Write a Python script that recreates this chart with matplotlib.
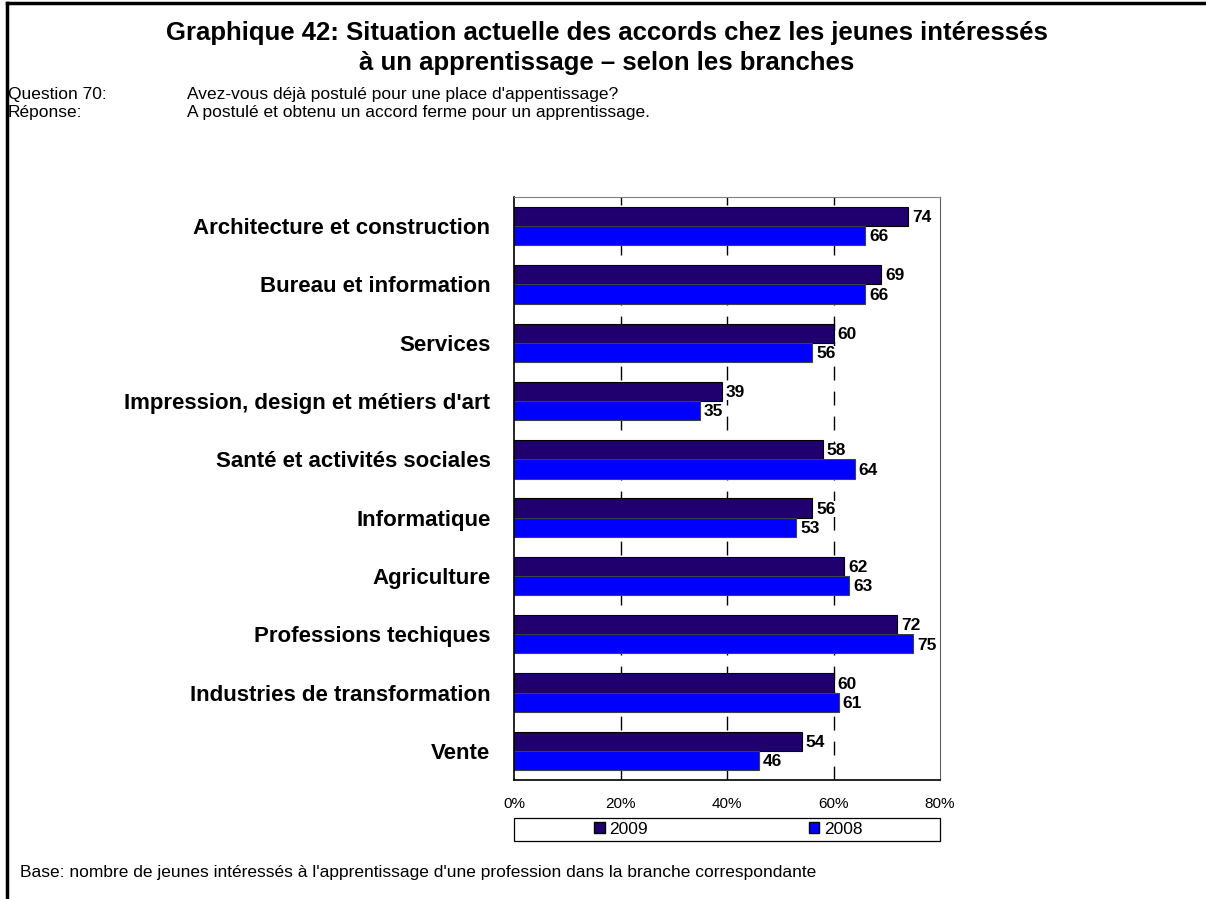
import numpy as np
import matplotlib
matplotlib.use("Agg")
import matplotlib.pyplot as plt
from matplotlib.patches import Patch, Rectangle

plt.rcParams['font.family'] = ['Liberation Sans', 'DejaVu Sans']

categories = ["Architecture et construction", "Bureau et information", "Services",
              "Impression, design et métiers d'art", "Santé et activités sociales",
              "Informatique", "Agriculture", "Professions techiques",
              "Industries de transformation", "Vente"]
v2009 = [74, 69, 60, 39, 58, 56, 62, 72, 60, 54]
v2008 = [66, 66, 56, 35, 64, 53, 63, 75, 61, 46]
xticks = [0, 20, 40, 60, 80]

c2009 = "#1F006E"
c2008 = "#0000FF"

fig = plt.figure(figsize=(12.06, 8.99), dpi=100)
ax = fig.add_axes([514/1206, 1-780/899, 426/1206, 583/899])

y = np.arange(len(categories))
h = 0.33
b1 = ax.barh(y - h/2, v2009, height=h, color=c2009, edgecolor="black", linewidth=0.8, label="2009", zorder=2)
b2 = ax.barh(y + h/2, v2008, height=h, color=c2008, edgecolor="#404040", linewidth=0.8, label="2008", zorder=2)
for bars in (b1, b2):
    for r in bars:
        ax.text(r.get_width() + 0.7, r.get_y() + r.get_height()/2 + 0.02, f"{int(r.get_width())}",
                va="center", ha="left", fontsize=12.5, fontweight="bold", zorder=3,
                bbox=dict(facecolor="white", edgecolor="none", pad=0.3))

ax.set_xlim(0, 80)
ax.set_ylim(len(categories) - 0.5, -0.5)
ax.set_yticks(y)
ax.set_yticklabels(categories, fontsize=16, fontweight="bold")
ax.set_xticks(xticks)
ax.set_xticklabels([f"{t}%" for t in xticks], fontsize=11)
ax.tick_params(axis="y", length=0, pad=17)
ax.tick_params(axis="x", length=0, pad=12)
for t in xticks[1:-1]:
    ax.axvline(t, color="black", linestyle=(0, (10, 8)), linewidth=1, zorder=0)
ax.spines["left"].set_linewidth(1.2)
ax.spines["bottom"].set_linewidth(1.2)
ax.spines["top"].set_color("#808080")
ax.spines["right"].set_color("#606060")

# legend box below the axis
ax.add_patch(Rectangle((0, -0.104), 1, 0.038, transform=ax.transAxes, fill=False,
                       edgecolor="black", linewidth=0.9, clip_on=False))
handles = [Patch(facecolor=c2009, edgecolor="black"), Patch(facecolor=c2008, edgecolor="black")]
leg = ax.legend(handles, ["2009", "2008"], loc="center", bbox_to_anchor=(0.503, -0.085),
                ncol=2, frameon=False, fontsize=12.5,
                handlelength=0.6, handleheight=0.6, handletextpad=0.25, borderaxespad=0,
                borderpad=0, columnspacing=9.3)

fig.text(607/1206, 1-48/899, "Graphique 42: Situation actuelle des accords chez les jeunes intéressés\nà un apprentissage – selon les branches",
         ha="center", va="center", fontsize=18.5, fontweight="bold", linespacing=1.3)
fig.text(8/1206, 1-95/899, "Question 70:", fontsize=12.5, va="center")
fig.text(8/1206, 1-112/899, "Réponse:", fontsize=12.5, va="center")
fig.text(187/1206, 1-95/899, "Avez-vous déjà postulé pour une place d'appentissage?", fontsize=12.5, va="center")
fig.text(187/1206, 1-112/899, "A postulé et obtenu un accord ferme pour un apprentissage.", fontsize=12.5, va="center")
fig.text(20/1206, 1-872/899, "Base: nombre de jeunes intéressés à l'apprentissage d'une profession dans la branche correspondante",
         fontsize=12.5, va="center")

# frame round the page (left and top only)
fig.add_artist(plt.Line2D([7/1206, 7/1206], [0, 1-3/899], color="black", linewidth=2.5, transform=fig.transFigure))
fig.add_artist(plt.Line2D([7/1206, 1], [1-3/899, 1-3/899], color="black", linewidth=2.5, transform=fig.transFigure))

fig.savefig("out.png", dpi=100)
